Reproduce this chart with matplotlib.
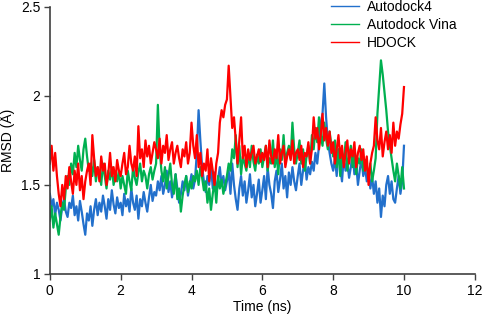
import numpy as np
import matplotlib
matplotlib.use('Agg')
import matplotlib.pyplot as plt

# RMSD values, one sample every 0.05 ns from 0 to 10 ns
time_ns = [round(i * 0.05, 2) for i in range(201)]

autodock4 = [
    1.45, 1.38, 1.42, 1.33, 1.40, 1.36, 1.30, 1.38, 1.42, 1.35, 1.32, 1.40, 1.37, 1.44, 1.33, 1.38, 1.30, 1.41, 1.35, 1.28,
    1.22, 1.34, 1.30, 1.38, 1.27, 1.36, 1.42, 1.33, 1.40, 1.35, 1.44, 1.38, 1.31, 1.42, 1.36, 1.47, 1.39, 1.34, 1.43, 1.37,
    1.40, 1.33, 1.45, 1.38, 1.42, 1.35, 1.48, 1.40, 1.36, 1.44, 1.31, 1.42, 1.38, 1.46, 1.40, 1.35, 1.43, 1.50, 1.41, 1.46,
    1.44, 1.52, 1.47, 1.55, 1.45, 1.50, 1.58, 1.46, 1.52, 1.43, 1.49, 1.56, 1.48, 1.40, 1.45, 1.52, 1.47, 1.55, 1.44, 1.50,
    1.56, 1.48, 1.53, 1.68, 1.92, 1.75, 1.60, 1.52, 1.46, 1.55, 1.50, 1.62, 1.48, 1.57, 1.45, 1.53, 1.60, 1.50, 1.55, 1.47,
    1.52, 1.58, 1.45, 1.62, 1.50, 1.42, 1.36, 1.48, 1.55, 1.44, 1.52, 1.40, 1.47, 1.56, 1.43, 1.50, 1.38, 1.45, 1.53, 1.40,
    1.47, 1.55, 1.42, 1.60, 1.50, 1.45, 1.37, 1.52, 1.58, 1.46, 1.53, 1.62, 1.48, 1.55, 1.43, 1.57, 1.50, 1.60, 1.52, 1.47,
    1.55, 1.62, 1.50, 1.58, 1.65, 1.53, 1.60, 1.56, 1.63, 1.58, 1.68, 1.62, 1.72, 1.85, 1.90, 2.07, 1.88, 1.75, 1.68, 1.62,
    1.58, 1.65, 1.55, 1.70, 1.60, 1.52, 1.66, 1.58, 1.63, 1.54, 1.60, 1.68, 1.56, 1.62, 1.50, 1.58, 1.65, 1.55, 1.60, 1.52,
    1.56, 1.48, 1.55, 1.45, 1.52, 1.40, 1.48, 1.32, 1.44, 1.38, 1.50, 1.55, 1.45, 1.52, 1.42, 1.40, 1.48, 1.55, 1.45, 1.52,
    1.72,
]

autodock_vina = [
    1.30, 1.38, 1.26, 1.34, 1.28, 1.22, 1.32, 1.40, 1.36, 1.48, 1.55, 1.50, 1.62, 1.56, 1.68, 1.60, 1.72, 1.64, 1.58, 1.70,
    1.76, 1.66, 1.58, 1.62, 1.55, 1.64, 1.52, 1.60, 1.56, 1.50, 1.62, 1.55, 1.48, 1.58, 1.53, 1.60, 1.50, 1.56, 1.52, 1.58,
    1.48, 1.55, 1.50, 1.45, 1.58, 1.52, 1.47, 1.60, 1.54, 1.50, 1.57, 1.62, 1.52, 1.58, 1.55, 1.48, 1.56, 1.60, 1.53, 1.58,
    1.62, 1.95, 1.70, 1.58, 1.52, 1.60, 1.48, 1.55, 1.62, 1.50, 1.45, 1.56, 1.42, 1.48, 1.35, 1.44, 1.50, 1.55, 1.46, 1.52,
    1.48, 1.55, 1.52, 1.58, 1.50, 1.60, 1.54, 1.47, 1.52, 1.40, 1.48, 1.36, 1.45, 1.52, 1.40, 1.55, 1.48, 1.53, 1.45, 1.50,
    1.55, 1.62, 1.58, 1.70, 1.65, 1.78, 1.60, 1.72, 1.56, 1.66, 1.62, 1.58, 1.68, 1.60, 1.72, 1.63, 1.58, 1.67, 1.62, 1.70,
    1.60, 1.66, 1.72, 1.58, 1.65, 1.62, 1.75, 1.60, 1.68, 1.56, 1.70, 1.64, 1.78, 1.62, 1.68, 1.72, 1.65, 1.85, 1.70, 1.62,
    1.68, 1.75, 1.62, 1.70, 1.58, 1.66, 1.72, 1.62, 1.78, 1.70, 1.82, 1.74, 1.88, 1.78, 1.72, 1.85, 1.76, 1.70, 1.80, 1.72,
    1.66, 1.75, 1.60, 1.70, 1.55, 1.68, 1.62, 1.74, 1.58, 1.66, 1.72, 1.60, 1.68, 1.56, 1.65, 1.62, 1.70, 1.58, 1.64, 1.60,
    1.55, 1.62, 1.52, 1.58, 1.65, 1.90, 2.05, 2.20, 2.12, 2.02, 1.92, 1.80, 1.72, 1.65, 1.58, 1.52, 1.62, 1.55, 1.48, 1.60,
    1.48,
]

hdock = [
    1.62, 1.72, 1.58, 1.68, 1.55, 1.45, 1.38, 1.50, 1.42, 1.55, 1.48, 1.60, 1.52, 1.45, 1.58, 1.50, 1.62, 1.47, 1.55, 1.42,
    1.52, 1.58, 1.62, 1.50, 1.78, 1.65, 1.55, 1.60, 1.52, 1.66, 1.58, 1.62, 1.50, 1.56, 1.68, 1.55, 1.60, 1.52, 1.64, 1.58,
    1.55, 1.62, 1.68, 1.56, 1.60, 1.72, 1.62, 1.58, 1.66, 1.55, 1.83, 1.65, 1.70, 1.60, 1.75, 1.66, 1.72, 1.62, 1.68, 1.74,
    1.70, 1.65, 1.76, 1.62, 1.72, 1.68, 1.78, 1.64, 1.70, 1.74, 1.62, 1.68, 1.72, 1.65, 1.60, 1.70, 1.66, 1.74, 1.62, 1.68,
    1.85, 1.72, 1.65, 1.78, 1.60, 1.68, 1.55, 1.62, 1.58, 1.70, 1.52, 1.65, 1.58, 1.50, 1.62, 1.68, 1.85, 1.92, 1.88, 1.95,
    1.98, 2.17, 2.00, 1.82, 1.88, 1.75, 1.62, 1.75, 1.88, 1.65, 1.72, 1.60, 1.70, 1.64, 1.68, 1.72, 1.62, 1.66, 1.70, 1.63,
    1.68, 1.64, 1.72, 1.60, 1.75, 1.66, 1.62, 1.70, 1.65, 1.78, 1.62, 1.68, 1.72, 1.60, 1.66, 1.70, 1.64, 1.75, 1.62, 1.68,
    1.70, 1.64, 1.72, 1.60, 1.68, 1.66, 1.74, 1.62, 1.70, 1.88, 1.76, 1.82, 1.70, 1.78, 1.90, 1.75, 1.82, 1.72, 1.80, 1.68,
    1.74, 1.62, 1.70, 1.78, 1.65, 1.72, 1.60, 1.68, 1.75, 1.62, 1.70, 1.66, 1.74, 1.60, 1.68, 1.72, 1.64, 1.70, 1.58, 1.66,
    1.50, 1.62, 1.68, 1.72, 1.88, 1.75, 1.70, 1.82, 1.66, 1.74, 1.80, 1.70, 1.78, 1.68, 1.85, 1.72, 1.80, 1.76, 1.84, 1.90,
    2.05,
]

x_ticks = [0, 2, 4, 6, 8, 10, 12]
y_ticks = [1, 1.5, 2, 2.5]

plt.rcParams['font.family'] = ['Liberation Sans', 'DejaVu Sans']

fig = plt.figure(figsize=(4.84, 3.17), dpi=100)
ax = fig.add_axes([0.103, 0.136, 0.878, 0.842])

ax.plot(time_ns, autodock4, color='#2270cc', lw=1.6, label='Autodock4')
ax.plot(time_ns, autodock_vina, color='#00b050', lw=1.6, label='Autodock Vina')
ax.plot(time_ns, hdock, color='#ff0000', lw=1.6, label='HDOCK')

ax.set_xlim(0, 12)
ax.set_ylim(1, 2.5)
ax.set_xticks(x_ticks)
ax.set_xticklabels([str(t) for t in x_ticks])
ax.set_yticks(y_ticks)
ax.set_yticklabels(['1', '1.5', '2', '2.5'])

for s in ['top', 'right']:
    ax.spines[s].set_visible(False)
for s in ['left', 'bottom']:
    ax.spines[s].set_color('#404040')
    ax.spines[s].set_linewidth(1.2)
ax.tick_params(direction='out', length=4, width=1, color='#404040', labelsize=10, pad=3)

ax.set_xlabel('Time (ns)', fontsize=10, labelpad=2)
ax.set_ylabel('RMSD (Å)', fontsize=10, labelpad=4)

leg = ax.legend(loc='upper right', bbox_to_anchor=(457 / 484, 1.0), bbox_transform=fig.transFigure,
                frameon=False, fontsize=10, handlelength=2.0, handletextpad=0.6,
                labelspacing=0.3, borderaxespad=0, borderpad=0)
for h in leg.get_lines():
    h.set_linewidth(1.0)

fig.savefig('out.png', dpi=100)
